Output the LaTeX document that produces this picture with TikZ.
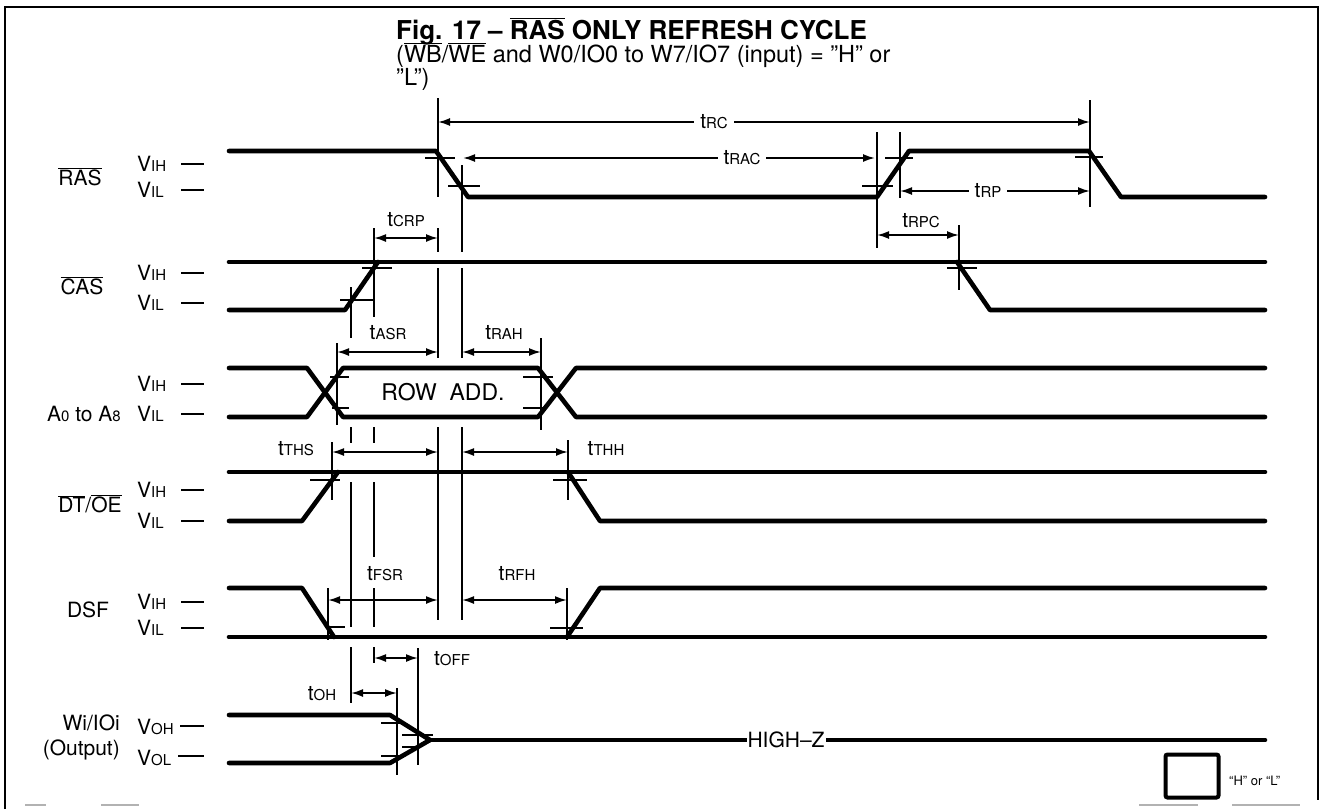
\documentclass[tikz,border=0pt]{standalone}
\usepackage{fontspec}
\setmainfont{TeX Gyre Heros}
\usetikzlibrary{arrows.meta}
\newcommand{\sm}[1]{{\fontsize{15}{15}\selectfont #1}}
\newcommand{\ovl}[1]{\ensuremath{\overline{\mbox{#1}}}}
\newcommand{\tlab}[1]{t\sm{#1}}
\tikzset{
  sig/.style={line width=4.6pt, line cap=round, line join=round},
  thin/.style={line width=1.8pt},
  dimarr/.style={thin, {Latex[length=12pt,width=8pt]}-{Latex[length=12pt,width=8pt]}},
  lab/.style={font=\fontsize{21}{23}\selectfont, inner sep=0pt},
  gaplab/.style={lab, fill=white, inner xsep=6pt, inner ysep=2pt},
  frame/.style={line width=2pt},
}
\begin{document}
\begin{tikzpicture}[x=1pt,y=-1pt]
\useasboundingbox (0,0) rectangle (1323,809);
% frame
\draw[frame] (5,809) -- (5,7) -- (1318,7) -- (1318,800);
\draw[line width=2pt, gray!60] (25,805) -- (46,805) (101,805) -- (139,805) (1139,805) -- (1198,805) (1232,805) -- (1300,805);
% title
\node[anchor=base west, inner sep=0pt, font=\bfseries\fontsize{26}{28}\selectfont] (title) at (396,39) {Fig. 17 -- \ovl{RAS} ONLY REFRESH CYCLE};
\node[anchor=base west, inner sep=0pt, font=\fontsize{23.5}{25}\selectfont] (sub1) at (396,62) {(\ovl{WB}/\ovl{WE} and W0/IO0 to W7/IO7 (input) = ”H” or};
\node[anchor=base west, inner sep=0pt, font=\fontsize{23.5}{25}\selectfont] (sub2) at (396,85) {”L”)};
% signal labels
\node[lab] (lras) at (80,177) {\ovl{RAS}};
\node[lab] (lcas) at (82,286) {\ovl{CAS}};
\node[lab, anchor=east] (la0) at (121,414) {A\sm{0} to A\sm{8}};
\node[lab] (ldt) at (90,504) {\ovl{DT}/\ovl{OE}};
\node[lab] (ldsf) at (88,610) {DSF};
\node[lab, anchor=east] (lwi) at (120,723) {Wi/IOi};
\node[lab, anchor=east] (lout) at (120,750) {(Output)};
% level labels
\foreach \n/\y/\t in {a/164/IH, b/190/IL, c/273/IH, d/303/IL, e/384/IH, f/414/IL, g/490/IH, h/521/IL, i/602/IH, j/628/IL}{
  \node[lab, anchor=west] (v\n) at (137,\y) {V\sm{\t}};
  \draw[thin] (181,\y) -- (204,\y);
}
\node[lab, anchor=west] (voh) at (137,727) {V\sm{OH}};
\draw[thin] (180,726) -- (204,726);
\node[lab, anchor=west] (vol) at (137,758) {V\sm{OL}};
\draw[thin] (178,756) -- (204,756);
% ---- waveforms
% RAS
\draw[sig] (229,151) -- (436,151) -- (468,197) -- (877,197) -- (909,151) -- (1089,151) -- (1121,197) -- (1265,197);
% CAS
\draw[sig] (229,262) -- (1265,262);
\draw[sig] (229,310) -- (345,310) -- (378,262);
\draw[sig] (957,262) -- (990,310) -- (1265,310);
% A0-A8
\draw[sig] (229,368) -- (307,368) -- (343,417) -- (538,417) -- (576,368) -- (1265,368);
\draw[sig] (229,417) -- (307,417) -- (343,368) -- (538,368) -- (576,417) -- (1265,417);
\node[lab, font=\fontsize{23}{25}\selectfont] (row) at (443,392) {ROW\ \ ADD.};
% DT/OE
\draw[sig] (229,472) -- (1265,472);
\draw[sig] (229,521) -- (302,521) -- (338,472);
\draw[sig] (568,472) -- (600,521) -- (1265,521);
% DSF
\draw[sig] (229,637) -- (1265,637);
\draw[sig] (229,588) -- (302,588) -- (334,637);
\draw[sig] (567,637) -- (600,588) -- (1265,588);
% Wi/IOi
\draw[sig] (229,715) -- (390,715) -- (430,740);
\draw[sig] (229,763) -- (390,763) -- (430,740);
\draw[sig] (430,740) -- (1265,740);
\node[gaplab, inner xsep=1pt] (hz) at (786,740) {HIGH--Z};
% ---- level ticks
\draw[thin] (425,158) -- (455,158) (448,186) -- (480,186) (885,158) -- (913,158) (862,186) -- (893,186) (1075,157) -- (1103,157);
\draw[thin] (362,268) -- (392,268) (340,300) -- (373,300) (947,268) -- (977,268);
\draw[thin] (330,377) -- (349,377) (332,408) -- (349,408) (523,377) -- (553,377) (523,408) -- (543,408);
\draw[thin] (310,480) -- (340,480) (553,480) -- (587,480);
\draw[thin] (325,627) -- (345,627) (550,628) -- (583,628);
\draw[thin] (381,723) -- (400,723) (402,735) -- (433,735) (402,747) -- (421,747) (381,756) -- (400,756);
% ---- vertical reference lines
\draw[thin] (438,98) -- (438,197) (438,228) -- (438,252) (438,268) -- (438,358) (438,427) -- (438,620);
\draw[thin] (462,165) -- (462,252) (462,268) -- (462,358) (462,427) -- (462,620);
\draw[thin] (374,228) -- (374,317) (374,427) -- (374,443) (374,482) -- (374,557) (374,588) -- (374,627) (374,647) -- (374,663);
\draw[thin] (351,287) -- (351,338) (351,427) -- (351,443) (351,482) -- (351,627) (351,647) -- (351,703);
\draw[thin] (337,343) -- (337,425) (541,338) -- (541,430);
\draw[thin] (332,442) -- (332,500) (568,440) -- (568,500);
\draw[thin] (328,588) -- (328,640) (567,588) -- (567,640);
\draw[thin] (397,688) -- (397,775) (418,648) -- (418,765);
\draw[thin] (877,132) -- (877,248) (900,132) -- (900,198) (1090,100) -- (1090,207) (959,225) -- (959,290);
% ---- timing arrows
\coordinate (rc1) at (438,122); \coordinate (rc2) at (1090,122);
\draw[dimarr] (rc1) -- (rc2);
\node[gaplab] (trc) at (714,122) {\tlab{RC}};
\coordinate (rac1) at (463,158); \coordinate (rac2) at (875,158);
\draw[dimarr] (rac1) -- (rac2);
\node[gaplab] (trac) at (742,158) {\tlab{RAC}};
\coordinate (rp1) at (900,191); \coordinate (rp2) at (1090,191);
\draw[dimarr] (rp1) -- (rp2);
\node[gaplab] (trp) at (988,191) {\tlab{RP}};
\coordinate (crp1) at (374,238); \coordinate (crp2) at (438,238);
\draw[dimarr] (crp1) -- (crp2);
\node[lab] (tcrp) at (406,220) {\tlab{CRP}};
\coordinate (rpc1) at (877,235); \coordinate (rpc2) at (959,235);
\draw[dimarr] (rpc1) -- (rpc2);
\node[lab] (trpc) at (921,221) {\tlab{RPC}};
\coordinate (asr1) at (337,352); \coordinate (asr2) at (438,352);
\draw[dimarr] (asr1) -- (asr2);
\node[lab] (tasr) at (388,333) {\tlab{ASR}};
\coordinate (rah1) at (462,352); \coordinate (rah2) at (541,352);
\draw[dimarr] (rah1) -- (rah2);
\node[lab] (trah) at (504,333) {\tlab{RAH}};
\coordinate (ths1) at (332,452); \coordinate (ths2) at (438,452);
\draw[dimarr] (ths1) -- (ths2);
\node[lab] (tths) at (296,449) {\tlab{THS}};
\coordinate (thh1) at (462,452); \coordinate (thh2) at (568,452);
\draw[dimarr] (thh1) -- (thh2);
\node[lab] (tthh) at (606,449) {\tlab{THH}};
\coordinate (fsr1) at (328,600); \coordinate (fsr2) at (438,600);
\draw[dimarr] (fsr1) -- (fsr2);
\node[lab] (tfsr) at (385,574) {\tlab{FSR}};
\coordinate (rfh1) at (462,600); \coordinate (rfh2) at (567,600);
\draw[dimarr] (rfh1) -- (rfh2);
\node[lab] (trfh) at (517,574) {\tlab{RFH}};
\coordinate (off1) at (374,658); \coordinate (off2) at (418,658);
\draw[dimarr] (off1) -- (off2);
\node[lab] (toff) at (452,659) {\tlab{OFF}};
\coordinate (oh1) at (351,693); \coordinate (oh2) at (397,693);
\draw[dimarr] (oh1) -- (oh2);
\node[lab] (toh) at (322,694) {\tlab{OH}};
% legend
\node[draw, line width=4pt, rounded corners=2pt, minimum width=53pt, minimum height=43pt, inner sep=0pt] (leg) at (1192,776) {};
\node[inner sep=0pt, font=\fontsize{13}{14}\selectfont, anchor=west] (legt) at (1229,781) {“H” or “L”};
\end{tikzpicture}
\end{document}
